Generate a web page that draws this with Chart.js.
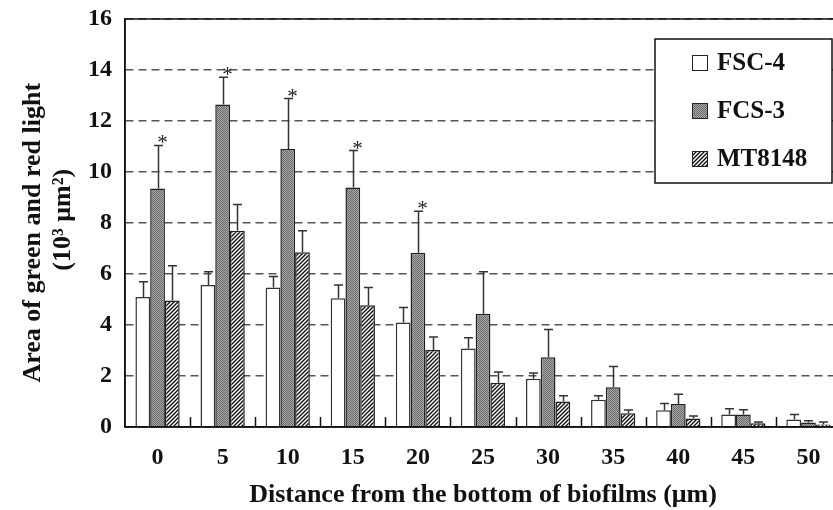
<!DOCTYPE html>
<html><head><meta charset="utf-8">
<script src="https://cdn.jsdelivr.net/npm/chart.js@4"></script>
<style>html,body{margin:0;padding:0;overflow:hidden;background:#fff;width:833px;height:510px}canvas{display:block}</style>
</head><body><canvas id="c" width="845" height="510" style="width:845px;height:510px"></canvas>
<script>
// ---- data ----
const categories = ['0','5','10','15','20','25','30','35','40','45','50'];
const seriesNames = ['FSC-4','FCS-3','MT8148'];
const fsc4 = [5.10, 5.57, 5.47, 5.05, 4.10, 3.08, 1.89, 1.07, 0.66, 0.49, 0.29];
const fsc4Sd = [0.60, 0.52, 0.43, 0.52, 0.59, 0.42, 0.23, 0.16, 0.26, 0.23, 0.20];
const fcs3 = [9.35, 12.65, 10.90, 9.39, 6.83, 4.44, 2.74, 1.56, 0.90, 0.49, 0.18];
const fcs3Sd = [1.69, 1.07, 1.98, 1.45, 1.63, 1.65, 1.08, 0.81, 0.38, 0.19, 0.07];
const mt8148 = [4.96, 7.70, 6.85, 4.77, 3.02, 1.74, 1.00, 0.54, 0.33, 0.15, 0.10];
const mt8148Sd = [1.36, 1.03, 0.85, 0.70, 0.51, 0.42, 0.23, 0.13, 0.10, 0.05, 0.10];
const fcs3Significant = [true, true, true, true, true, false, false, false, false, false, false];
const yTicks = [0, 2, 4, 6, 8, 10, 12, 14, 16];

const FONT = "'Liberation Serif', 'Times New Roman', serif";

function makeChecker() {
  const c = document.createElement('canvas'); c.width = 2; c.height = 2;
  const g = c.getContext('2d');
  g.fillStyle = '#a8a8a8'; g.fillRect(0,0,2,2);
  g.fillStyle = '#6a6a6a'; g.fillRect(0,0,1,1); g.fillRect(1,1,1,1);
  return g.createPattern(c, 'repeat');
}
function makeHatch() {
  const s = 4;
  const c = document.createElement('canvas'); c.width = s; c.height = s;
  const g = c.getContext('2d');
  g.fillStyle = '#fff'; g.fillRect(0,0,s,s);
  g.strokeStyle = '#111'; g.lineWidth = 1.4;
  g.beginPath();
  g.moveTo(-1, s+1); g.lineTo(s+1, -1);
  g.moveTo(-1, 1); g.lineTo(1, -1);
  g.moveTo(s-1, s+1); g.lineTo(s+1, s-1);
  g.stroke();
  return g.createPattern(c, 'repeat');
}
const checker = makeChecker();
const hatch = makeHatch();
const fills = ['#ffffff', checker, hatch];
const sds = [fsc4Sd, fcs3Sd, mt8148Sd];

const extras = {
  id: 'extras',
  afterDatasetsDraw(chart) {
    const ctx = chart.ctx;
    const y = chart.scales.y, x = chart.scales.x;
    const ca = chart.chartArea;
    ctx.save();
    // error bars
    ctx.strokeStyle = '#333'; ctx.lineWidth = 1.5;
    chart.data.datasets.forEach((ds, di) => {
      const meta = chart.getDatasetMeta(di);
      meta.data.forEach((bar, i) => {
        const top = y.getPixelForValue(ds.data[i] + sds[di][i]);
        const bx = Math.round(bar.x) + 0.5;
        ctx.beginPath();
        ctx.moveTo(bx, bar.y); ctx.lineTo(bx, top);
        ctx.moveTo(bx - 4.5, top); ctx.lineTo(bx + 4.5, top);
        ctx.stroke();
        if (di === 1 && fcs3Significant[i]) {
          ctx.fillStyle = '#222';
          ctx.font = '21px ' + FONT;
          ctx.textAlign = 'center'; ctx.textBaseline = 'alphabetic';
          ctx.fillText('*', bx + 4, top + 4);
        }
      });
    });
    // inward x ticks between categories
    ctx.strokeStyle = '#111'; ctx.lineWidth = 1.5;
    for (let i = 0; i < categories.length - 1; i++) {
      const xm = Math.round((x.getPixelForValue(i) + x.getPixelForValue(i + 1)) / 2) + 0.5;
      ctx.beginPath(); ctx.moveTo(xm, ca.bottom); ctx.lineTo(xm, ca.bottom - 10); ctx.stroke();
    }
    // frame
    ctx.strokeStyle = '#111'; ctx.lineWidth = 1.5;
    ctx.strokeRect(ca.left, ca.top, ca.right - ca.left, ca.bottom - ca.top);
    // legend
    const lx = 655, ly = 39, lw = 177, lh = 144;
    ctx.fillStyle = '#fff'; ctx.fillRect(lx, ly, lw, lh);
    ctx.strokeRect(lx, ly, lw, lh);
    const rows = [63, 111, 159];
    seriesNames.forEach((name, k) => {
      ctx.fillStyle = fills[k];
      ctx.fillRect(692, rows[k] - 8, 16, 16);
      ctx.lineWidth = 1; ctx.strokeStyle = '#222';
      ctx.strokeRect(692.5, rows[k] - 7.5, 15, 15);
      ctx.fillStyle = '#111';
      ctx.font = 'bold 25px ' + FONT;
      ctx.textAlign = 'left'; ctx.textBaseline = 'middle';
      ctx.fillText(name, 717, rows[k] + 1);
    });
    ctx.restore();
  }
};

new Chart(document.getElementById('c'), {
  type: 'bar',
  data: {
    labels: categories,
    datasets: [
      { label: seriesNames[0], data: fsc4, backgroundColor: fills[0], borderColor: '#333', borderWidth: 1.5 },
      { label: seriesNames[1], data: fcs3, backgroundColor: fills[1], borderColor: '#222', borderWidth: 1.5 },
      { label: seriesNames[2], data: mt8148, backgroundColor: fills[2], borderColor: '#222', borderWidth: 1.5 }
    ]
  },
  options: {
    responsive: false,
    animation: false,
    devicePixelRatio: 1,
    layout: { padding: { left: 0, top: 19, right: 4, bottom: 0 } },
    plugins: { legend: { display: false }, tooltip: { enabled: false } },
    datasets: { bar: { categoryPercentage: 0.68, barPercentage: 1.0 } },
    scales: {
      x: {
        offset: true,
        grid: { display: false, drawTicks: false },
        border: { display: true, color: '#111', width: 1.5 },
        ticks: { color: '#111', font: { family: FONT, size: 24, weight: 'bold' }, padding: 16, maxRotation: 0 },
        title: { display: true, text: 'Distance from the bottom of biofilms (μm)', color: '#111',
                 font: { family: FONT, size: 26, weight: 'bold', lineHeight: 1.154 }, padding: { top: 0, bottom: 0 } },
        afterFit(s) { s.height = 83; s.paddingLeft = 0; s.paddingRight = 0; }
      },
      y: {
        min: 0, max: 16,
        afterBuildTicks(s) { s.ticks = yTicks.map(v => ({ value: v })); },
        grid: { color: '#555', lineWidth: 1.5, drawTicks: false },
        border: { display: true, color: '#111', width: 1.5, dash: [8, 5] },
        ticks: { color: '#111', font: { family: FONT, size: 24, weight: 'bold' }, padding: 13 },
        title: { display: true, text: ['Area of green and red light   ', ' (10³ μm²)'], color: '#111',
                 font: { family: FONT, size: 26, weight: 'bold', lineHeight: 1.154 }, padding: { top: 18, bottom: 0 } },
        afterFit(s) { s.width = 125; s.paddingTop = 0; s.paddingBottom = 0; }
      }
    }
  },
  plugins: [extras]
});
</script>
</body></html>
